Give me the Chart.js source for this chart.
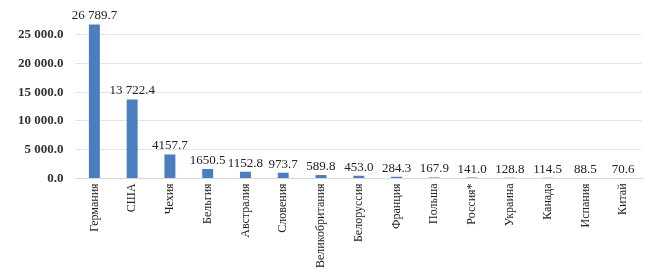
<!DOCTYPE html>
<html>
<head>
<meta charset="utf-8">
<script src="https://cdn.jsdelivr.net/npm/chart.js@4/dist/chart.umd.min.js"></script>
<style>
  html, body { margin: 0; padding: 0; background: #fff; }
  #wrap { width: 645px; height: 275px; }
</style>
</head>
<body>
<div id="wrap"><canvas id="myChart"></canvas></div>
<script>
const countries = ["Германия", "США", "Чехия", "Бельгия", "Австралия", "Словения", "Великобритания",
  "Белоруссия", "Франция", "Польша", "Россия*", "Украина", "Канада", "Испания", "Китай"];
const values = [26789.7, 13722.4, 4157.7, 1650.5, 1152.8, 973.7, 589.8, 453.0, 284.3, 167.9, 141.0, 128.8, 114.5, 88.5, 70.6];
const yTicks = [0, 5000, 10000, 15000, 20000, 25000];

const serif = '"Liberation Serif", "Times New Roman", serif';

function fmtTick(v) {
  const s = v.toFixed(1);
  const [i, d] = s.split(".");
  return i.replace(/\B(?=(\d{3})+(?!\d))/g, " ") + "." + d;
}
function fmtLabel(v) {
  // 4-digit numbers have no separator in the source
  return v >= 10000 ? fmtTick(v) : v.toFixed(1);
}

// draws the value above each bar
const valueLabels = {
  id: "valueLabels",
  afterDatasetsDraw(chart) {
    const { ctx } = chart;
    const meta = chart.getDatasetMeta(0);
    ctx.save();
    ctx.font = "13px " + serif;
    ctx.fillStyle = "#222";
    ctx.textAlign = "center";
    ctx.textBaseline = "bottom";
    meta.data.forEach((bar, i) => {
      ctx.fillText(fmtLabel(values[i]), bar.x, bar.y - 2);
    });
    ctx.restore();
  }
};

const ctx = document.getElementById("myChart").getContext("2d");
new Chart(ctx, {
  type: "bar",
  data: {
    labels: countries,
    datasets: [{
      data: values,
      backgroundColor: "#4A7EBF",
      barPercentage: 0.58,
      categoryPercentage: 0.5
    }]
  },
  options: {
    responsive: true,
    maintainAspectRatio: false,
    animation: false,
    layout: { padding: { left: 6, right: 3, top: 8, bottom: 2 } },
    plugins: {
      legend: { display: false },
      tooltip: { enabled: false }
    },
    scales: {
      x: {
        grid: { display: false, drawTicks: false },
        border: { color: "#d9d9d9" },
        ticks: {
          maxRotation: 90,
          minRotation: 90,
          padding: 5,
          color: "#222",
          font: { family: serif, size: 12 }
        }
      },
      y: {
        min: 0,
        max: 27600,
        afterBuildTicks: (axis) => {
          axis.ticks = yTicks.map((v) => ({ value: v }));
        },
        grid: { color: "#e4e4e4", drawTicks: false },
        border: { display: false },
        ticks: {
          padding: 12,
          color: "#333",
          font: { family: serif, size: 13, weight: "bold" },
          callback: (v) => fmtTick(v)
        }
      }
    }
  },
  plugins: [valueLabels]
});
</script>
</body>
</html>
